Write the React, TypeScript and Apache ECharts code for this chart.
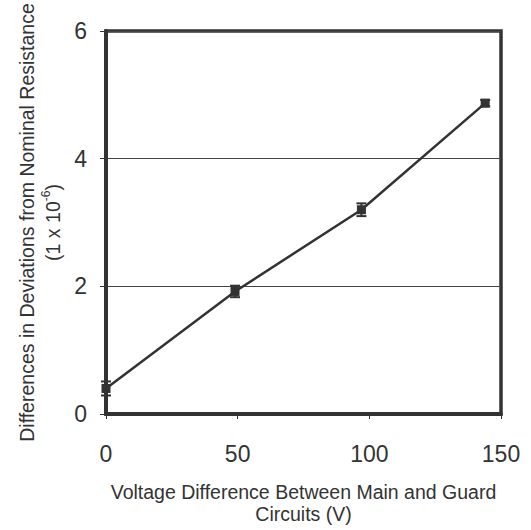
import React, { useEffect, useRef } from "react";
import * as echarts from "echarts";

const voltage = [0, 49, 97, 144];
const deviation = [0.4, 1.92, 3.2, 4.87];
const errorHalf = [0.11, 0.09, 0.1, 0.05];
const xTicks = [0, 50, 100, 150];
const yTicks = [0, 2, 4, 6];

const INK = "#333";
const FONT = "Liberation Sans, Arial, sans-serif";

export default function App() {
  const ref = useRef<HTMLDivElement>(null);
  useEffect(() => {
    if (!ref.current) return;
    const chart = echarts.init(ref.current, undefined, { renderer: "svg" });
    const points = voltage.map((v, i) => [v, deviation[i]]);
    const bars = voltage.map((v, i) => [v, deviation[i] - errorHalf[i], deviation[i] + errorHalf[i]]);
    chart.setOption({
      animation: false,
      backgroundColor: "#fff",
      textStyle: { fontFamily: FONT },
      grid: {
        left: 106,
        right: 30,
        top: 31,
        bottom: 109,
        show: true,
        borderWidth: 3.5,
        borderColor: INK,
      },
      xAxis: {
        type: "value",
        min: xTicks[0],
        max: xTicks[xTicks.length - 1],
        interval: 50,
        axisLine: { show: true, lineStyle: { color: INK, width: 4 } },
        axisTick: { show: true, length: 5, lineStyle: { color: INK, width: 1 } },
        axisLabel: { fontSize: 23, color: INK, margin: 28, fontFamily: FONT },
        splitLine: { show: false },
        name: "Voltage Difference Between Main and Guard\nCircuits (V)",
        nameLocation: "middle",
        nameGap: 67,
        nameTextStyle: { fontSize: 19.5, color: INK, lineHeight: 22, fontFamily: FONT },
      },
      yAxis: {
        type: "value",
        min: yTicks[0],
        max: yTicks[yTicks.length - 1],
        interval: 2,
        axisLine: { show: true, lineStyle: { color: INK, width: 4 } },
        axisTick: { show: true, length: 6, lineStyle: { color: INK, width: 1 } },
        axisLabel: { fontSize: 23, color: INK, margin: 19, fontFamily: FONT },
        splitLine: { show: true, lineStyle: { color: "#444", width: 1 } },
        name: "{a|Differences in Deviations from Nominal Resistance}\n{a|(1 x 10}{s|-6}{a|)}",
        nameLocation: "middle",
        nameGap: 40,
        nameTextStyle: {
          color: INK,
          fontFamily: FONT,
          rich: {
            a: { fontSize: 19.5, color: INK, lineHeight: 26, fontFamily: FONT },
            s: { fontSize: 12, color: INK, verticalAlign: "top", lineHeight: 26, padding: [0, 0, 10, 0], fontFamily: FONT },
          },
        },
      },
      series: [
        {
          type: "line",
          data: points,
          symbol: "rect",
          symbolSize: 9,
          lineStyle: { color: INK, width: 2.5 },
          itemStyle: { color: INK },
          z: 3,
        },
        {
          type: "custom",
          data: bars,
          z: 4,
          renderItem: (params: any, api: any) => {
            const x = api.value(0);
            const lo = api.coord([x, api.value(1)]);
            const hi = api.coord([x, api.value(2)]);
            const w = 5;
            const style = { stroke: INK, lineWidth: 2 };
            return {
              type: "group",
              children: [
                { type: "line", shape: { x1: lo[0], y1: lo[1], x2: hi[0], y2: hi[1] }, style },
                { type: "line", shape: { x1: lo[0] - w, y1: lo[1], x2: lo[0] + w, y2: lo[1] }, style },
                { type: "line", shape: { x1: hi[0] - w, y1: hi[1], x2: hi[0] + w, y2: hi[1] }, style },
              ],
            };
          },
        },
      ],
    });
    return () => chart.dispose();
  }, []);
  return <div ref={ref} style={{ width: 531, height: 530, position: "absolute", left: 0, top: 0 }} />;
}
